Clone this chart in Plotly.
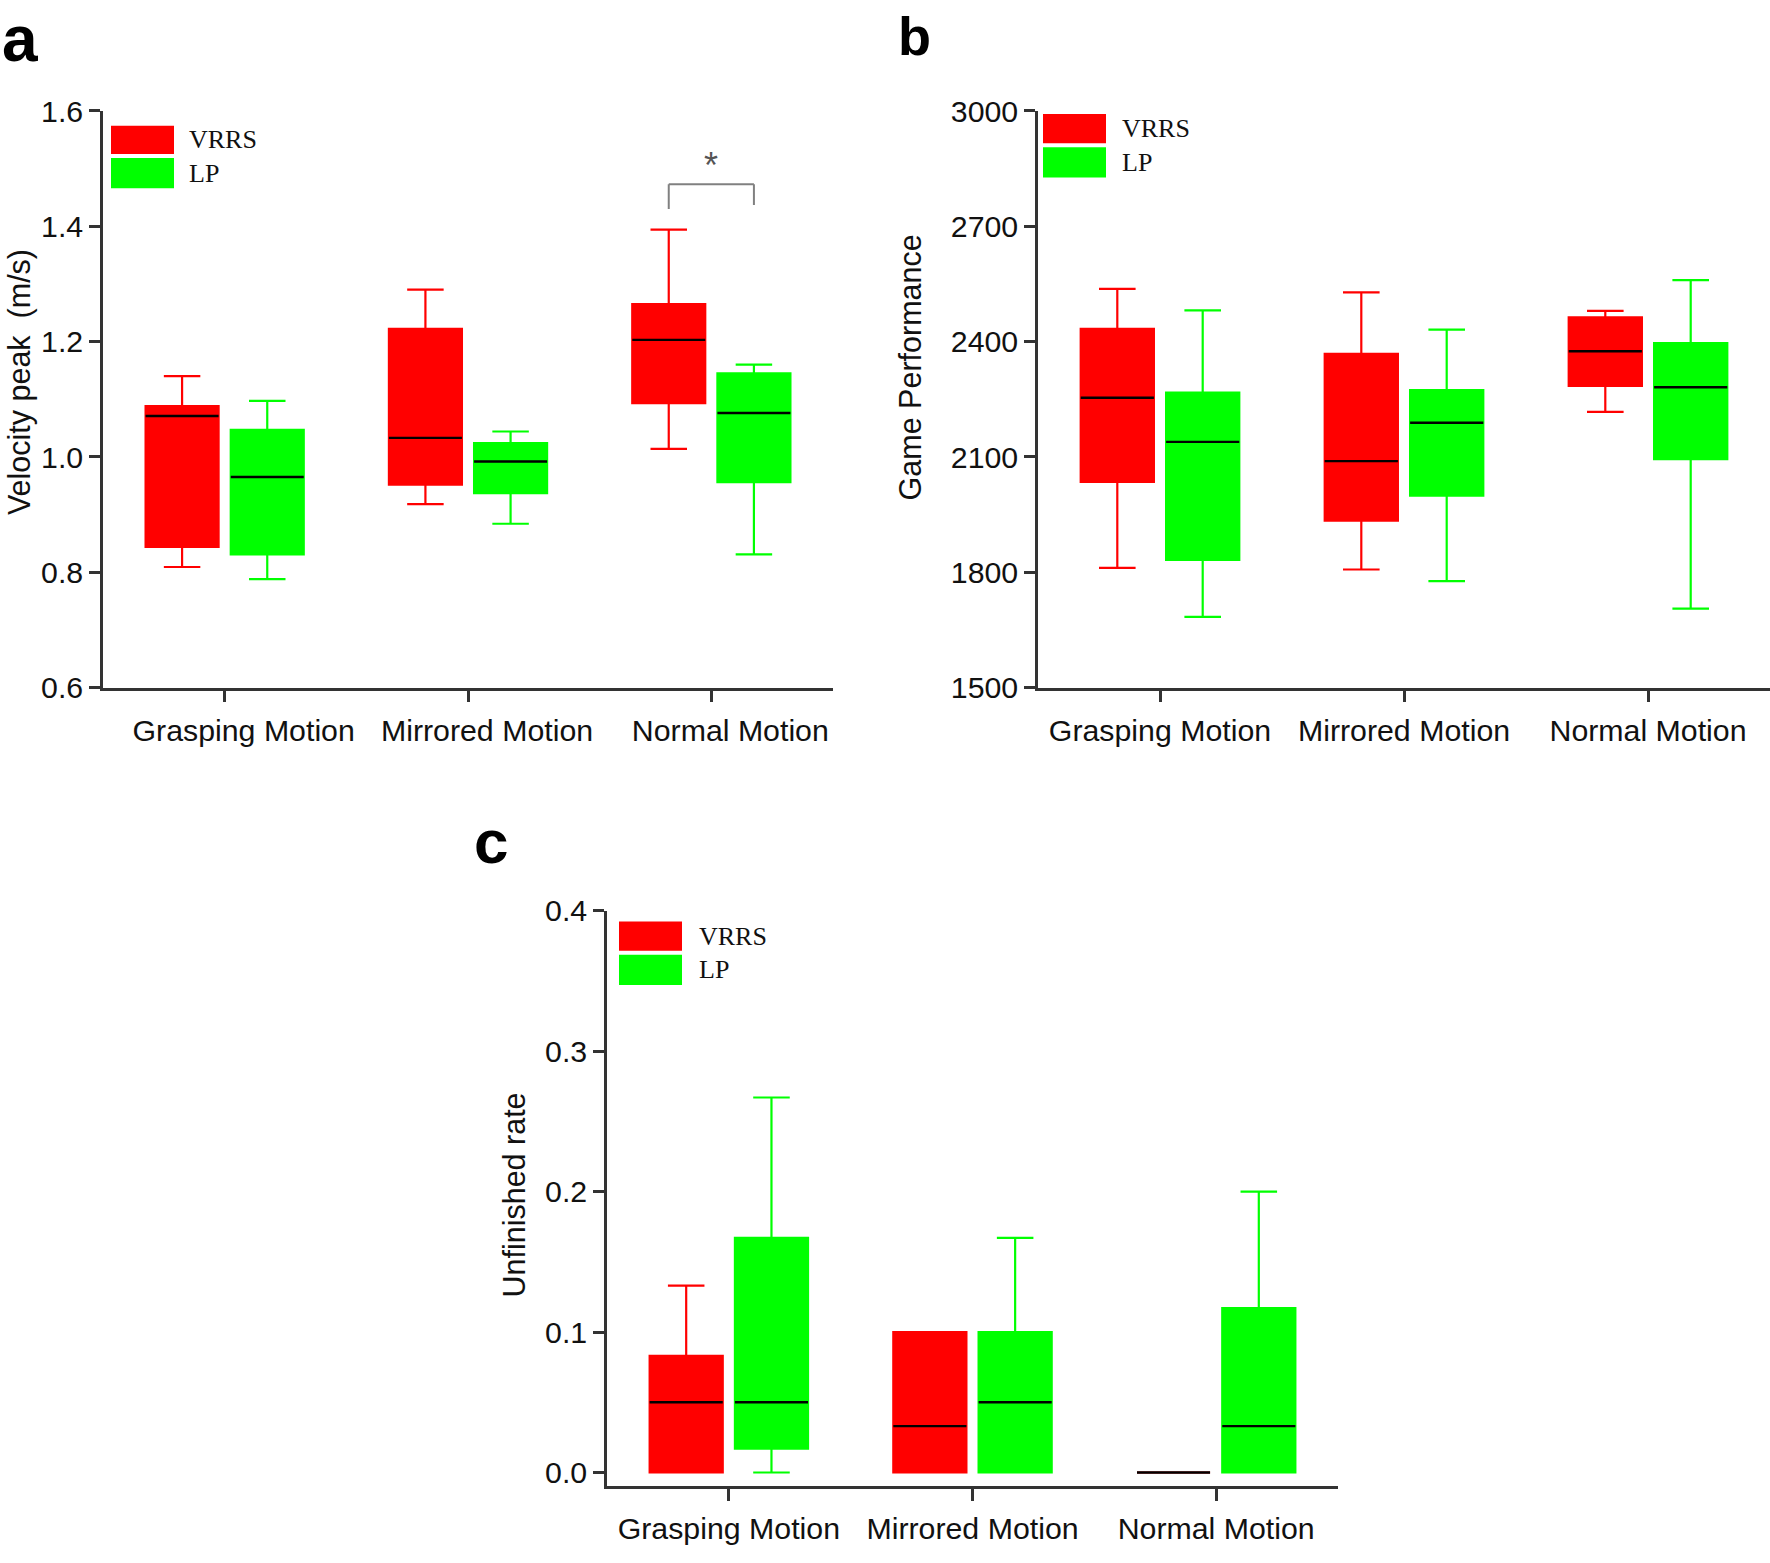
import plotly.graph_objects as go

# ---------------- data ----------------
categories = ["Grasping Motion", "Mirrored Motion", "Normal Motion"]
group_names = ["VRRS", "LP"]

# Panel a: Velocity peak (m/s)
a_vrrs_upper = [1.140, 1.290, 1.394]
a_vrrs_q3 = [1.088, 1.222, 1.265]
a_vrrs_median = [1.071, 1.033, 1.203]
a_vrrs_q1 = [0.844, 0.952, 1.093]
a_vrrs_lower = [0.809, 0.918, 1.014]
a_lp_upper = [1.097, 1.044, 1.160]
a_lp_q3 = [1.047, 1.024, 1.145]
a_lp_median = [0.965, 0.992, 1.076]
a_lp_q1 = [0.831, 0.937, 0.956]
a_lp_lower = [0.788, 0.884, 0.831]
a_ticks = [0.6, 0.8, 1.0, 1.2, 1.4, 1.6]

# significance bracket (panel a, Normal Motion)
sig_bracket_top = 1.473
sig_bracket_left_end = 1.430
sig_bracket_right_end = 1.437
sig_star_y = 1.505
sig_label = "*"

# Panel b: Game Performance
b_vrrs_upper = [2537, 2528, 2480]
b_vrrs_q3 = [2433, 2368, 2463]
b_vrrs_median = [2254, 2089, 2375]
b_vrrs_q1 = [2035, 1934, 2285]
b_vrrs_lower = [1811, 1807, 2217]
b_lp_upper = [2481, 2431, 2560]
b_lp_q3 = [2267, 2274, 2396]
b_lp_median = [2139, 2189, 2281]
b_lp_q1 = [1832, 1999, 2094]
b_lp_lower = [1684, 1777, 1705]
b_ticks = [1500, 1800, 2100, 2400, 2700, 3000]

# Panel c: Unfinished rate
c_vrrs_upper = [0.133, 0.100, 0.000]
c_vrrs_q3 = [0.083, 0.100, 0.000]
c_vrrs_median = [0.050, 0.033, 0.000]
c_vrrs_q1 = [0.000, 0.000, 0.000]
c_vrrs_lower = [0.000, 0.000, 0.000]
c_lp_upper = [0.267, 0.167, 0.200]
c_lp_q3 = [0.167, 0.100, 0.117]
c_lp_median = [0.050, 0.050, 0.033]
c_lp_q1 = [0.017, 0.000, 0.000]
c_lp_lower = [0.000, 0.000, 0.000]
c_ticks = [0.0, 0.1, 0.2, 0.3, 0.4]

# ---------------- styling ----------------
W, H = 1770, 1563
RED = "#FF0000"
GREEN = "#00FF00"
AXIS = "#333333"
SANS = "Liberation Sans, Arial, sans-serif"
SERIF = "Liberation Serif, Times New Roman, serif"
FS_TICK = 30.3
FS_TITLE = 30.5


def px(x, y):
    return x / W, 1 - y / H


fig = go.Figure()

panels = [
    ("x", "y", (a_vrrs_lower, a_vrrs_q1, a_vrrs_median, a_vrrs_q3, a_vrrs_upper),
     (a_lp_lower, a_lp_q1, a_lp_median, a_lp_q3, a_lp_upper)),
    ("x2", "y2", (b_vrrs_lower, b_vrrs_q1, b_vrrs_median, b_vrrs_q3, b_vrrs_upper),
     (b_lp_lower, b_lp_q1, b_lp_median, b_lp_q3, b_lp_upper)),
    ("x3", "y3", (c_vrrs_lower, c_vrrs_q1, c_vrrs_median, c_vrrs_q3, c_vrrs_upper),
     (c_lp_lower, c_lp_q1, c_lp_median, c_lp_q3, c_lp_upper)),
]

for xa, ya, vr, lp in panels:
    for name, stats, col in ((group_names[0], vr, RED), (group_names[1], lp, GREEN)):
        lo, q1, med, q3, up = stats
        fig.add_trace(go.Box(
            x=categories, q1=q1, median=med, q3=q3, lowerfence=lo, upperfence=up,
            name=name, offsetgroup=name, xaxis=xa, yaxis=ya,
            fillcolor=col, line=dict(color=col, width=2.2), whiskerwidth=0.5,
            boxpoints=False, showlegend=False, hoverinfo="skip",
        ))
    for name, stats in ((group_names[0], vr), (group_names[1], lp)):
        med = stats[2]
        fig.add_trace(go.Box(
            x=categories, q1=med, median=med, q3=med, lowerfence=med, upperfence=med,
            name=name + " median", offsetgroup=name, xaxis=xa, yaxis=ya,
            fillcolor="rgba(0,0,0,0)", line=dict(color="#000000", width=2.4),
            whiskerwidth=0, boxpoints=False, showlegend=False, hoverinfo="skip",
        ))

# axes geometry (pixels in the 1770x1563 figure)
A = dict(x0=103, x1=833, y0=97, y1=686)
B = dict(x0=1038, x1=1770, y0=97, y1=686)
C = dict(x0=607, x1=1338, y0=914, y1=1502)


def dom(p):
    return [p["x0"] / W, p["x1"] / W], [1 - p["y1"] / H, 1 - p["y0"] / H]


xd_a, yd_a = dom(A)
xd_b, yd_b = dom(B)
xd_c, yd_c = dom(C)

xcommon = dict(
    type="category", categoryorder="array", categoryarray=categories,
    range=[-0.5, 2.5], showline=True, linecolor=AXIS, linewidth=2.5,
    ticks="outside", ticklen=12, tickwidth=2.5, tickcolor=AXIS,
    ticklabelstandoff=2,
    showgrid=False, zeroline=False, tickfont=dict(family=SANS, size=FS_TICK, color="#111"),
    fixedrange=True,
)
ycommon = dict(
    showline=True, linecolor=AXIS, linewidth=2.5, ticks="outside", ticklen=11,
    tickwidth=2.5, tickcolor=AXIS, showgrid=False, zeroline=False,
    tickfont=dict(family=SANS, size=FS_TICK, color="#111"), fixedrange=True,
)

fig.update_layout(
    width=W, height=H, margin=dict(l=0, r=0, t=0, b=0),
    paper_bgcolor="white", plot_bgcolor="white",
    boxmode="group", boxgap=0.3, boxgroupgap=0.143,
    xaxis=dict(domain=xd_a, anchor="y", ticklabelshift=19, **xcommon),
    yaxis=dict(domain=yd_a, anchor="x", range=[0.6, 1.6], tickvals=a_ticks,
               tickformat=".1f", **ycommon),
    xaxis2=dict(domain=xd_b, anchor="y2", **xcommon),
    yaxis2=dict(domain=yd_b, anchor="x2", range=[1500, 3000], tickvals=b_ticks, **ycommon),
    xaxis3=dict(domain=xd_c, anchor="y3", **xcommon),
    yaxis3=dict(domain=yd_c, anchor="x3", range=[-0.0098, 0.4], tickvals=c_ticks,
                tickformat=".1f", **ycommon),
)

shapes = []
annotations = []

# significance bracket in panel a
bx0, bx1 = 2 - 0.175, 2 + 0.175
for (x0, y0, x1, y1) in ((bx0, sig_bracket_left_end, bx0, sig_bracket_top),
                         (bx0, sig_bracket_top, bx1, sig_bracket_top),
                         (bx1, sig_bracket_top, bx1, sig_bracket_right_end)):
    shapes.append(dict(type="line", xref="x", yref="y", x0=x0, y0=y0, x1=x1, y1=y1,
                       line=dict(color="#808080", width=2)))
annotations.append(dict(x=2, y=sig_star_y, xref="x", yref="y", text=sig_label,
                        showarrow=False, font=dict(family=SANS, size=36, color="#555")))

# legends (swatch rectangles + serif text)
legend_specs = [
    (111, 112, 143, 176, 187),   # panel a: x0, y_top, y_mid, y_bottom, text x
    (1043, 100, 132, 165, 1120),
    (619, 925, 957, 990, 697),
]
for (lx, ytop, ymid, ybot, tx) in legend_specs:
    for (ya0, ya1, col, name) in ((ytop, ymid - 2, RED, group_names[0]),
                                  (ymid + 2, ybot, GREEN, group_names[1])):
        x0p, y0p = px(lx, ya1)
        x1p, y1p = px(lx + 63, ya0)
        shapes.append(dict(type="rect", xref="paper", yref="paper", x0=x0p, y0=y0p,
                           x1=x1p, y1=y1p, fillcolor=col, line=dict(width=0), layer="above"))
        tpx, tpy = px(tx, (ya0 + ya1) / 2)
        annotations.append(dict(x=tpx, y=tpy, xref="paper", yref="paper", text=name,
                                xanchor="left", yanchor="middle", showarrow=False,
                                font=dict(family=SERIF, size=26, color="#111")))

# axis titles
for (tx, ty, text) in ((19, 374, "Velocity peak  (m/s)"),
                       (910, 359, "Game Performance"),
                       (514, 1205, "Unfinished rate")):
    xp, yp = px(tx, ty)
    annotations.append(dict(x=xp, y=yp, xref="paper", yref="paper", text=text,
                            textangle=-90, showarrow=False, xanchor="center", yanchor="middle",
                            font=dict(family=SANS, size=FS_TITLE, color="#111")))

# panel labels
for (tx, ty, text, size, xanc) in ((0, 24, "a", 64, "left"),
                                   (914, 20, "b", 54, "center"),
                                   (491, 843, "c", 62, "center")):
    xp, yp = px(tx, ty)
    annotations.append(dict(x=xp, y=yp, xref="paper", yref="paper", text="<b>" + text + "</b>",
                            showarrow=False, xanchor=xanc, yanchor="middle",
                            font=dict(family=SANS, size=size, color="#000")))

fig.update_layout(shapes=shapes, annotations=annotations)

fig.write_html("out.html", config={"displayModeBar": False},
               post_script="document.body.style.margin='0';document.body.style.overflow='hidden';")
